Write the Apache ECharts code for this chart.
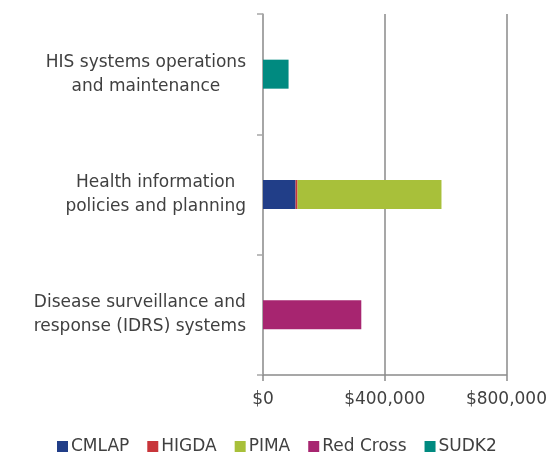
<!DOCTYPE html>
<html>
<head>
<meta charset="utf-8">
<script src="https://cdn.jsdelivr.net/npm/echarts@6/dist/echarts.min.js"></script>
<style>html,body{margin:0;padding:0;background:#fff}#c{width:550px;height:454px}</style>
</head>
<body>
<div id="c"></div>
<script>
const categories = [
  ["Disease surveillance and", "response (IDRS) systems"],
  ["Health information", "policies and planning"],
  ["HIS systems operations", "and maintenance"]
];
const seriesNames = ["CMLAP", "HIGDA", "PIMA", "Red Cross", "SUDK2"];
const cmlap = [0, 107000, 0];
const higda = [0, 6500, 0];
const pima = [0, 473000, 0];
const redCross = [323000, 0, 0];
const sudk2 = [0, 0, 84000];
const seriesValues = [cmlap, higda, pima, redCross, sudk2];
const colors = ["#213E88", "#C8353A", "#A8C03A", "#A72570", "#008A80"];
const xTicks = [0, 400000, 800000];

const FONT = "DejaVu Sans";
const TXT = "#404040";
const FS = 17;
const chart = echarts.init(document.getElementById('c'));
chart.setOption({
  animation: false,
  color: colors,
  grid: { left: 263, right: 43, top: 14, bottom: 79, containLabel: false },
  legend: {
    left: 57, top: 438, padding: 0, itemWidth: 11, itemHeight: 11, itemGap: 18,
    icon: 'rect',
    textStyle: { fontFamily: FONT, fontSize: FS, color: TXT, padding: [0,0,0,-2] },
    data: seriesNames
  },
  xAxis: {
    type: 'value', min: xTicks[0], max: xTicks[xTicks.length-1], interval: xTicks[1]-xTicks[0],
    axisLine: { show: true, lineStyle: { color: '#8a8a8a', width: 1.5 } },
    axisTick: { show: true, length: 6, lineStyle: { color: '#8a8a8a', width: 1.5 } },
    splitLine: { show: true, lineStyle: { color: '#8a8a8a', width: 1.5 } },
    axisLabel: {
      margin: 16, fontFamily: FONT, fontSize: FS, color: TXT,
      formatter: v => '$' + v.toLocaleString('en-US')
    }
  },
  yAxis: {
    type: 'category',
    data: categories.map(c => c.join('\n')),
    axisLine: { show: true, lineStyle: { color: '#a6a6a6', width: 1.5 } },
    axisTick: { show: true, length: 6, lineStyle: { color: '#a6a6a6', width: 1.5 } },
    axisLabel: {
      margin: 17, align: 'right', fontFamily: FONT, fontSize: FS, color: TXT, lineHeight: 24,
      formatter: v => v.split('\n').map(s => '{c|' + s + '}').join('\n'),
      rich: { c: { align: 'center', fontFamily: FONT, fontSize: FS, color: TXT, lineHeight: 24 } }
    }
  },
  series: seriesNames.map((n, i) => ({
    name: n, type: 'bar', stack: 'total', barWidth: 29,
    data: seriesValues[i],
    itemStyle: { color: colors[i] }
  }))
});
</script>
</body>
</html>
